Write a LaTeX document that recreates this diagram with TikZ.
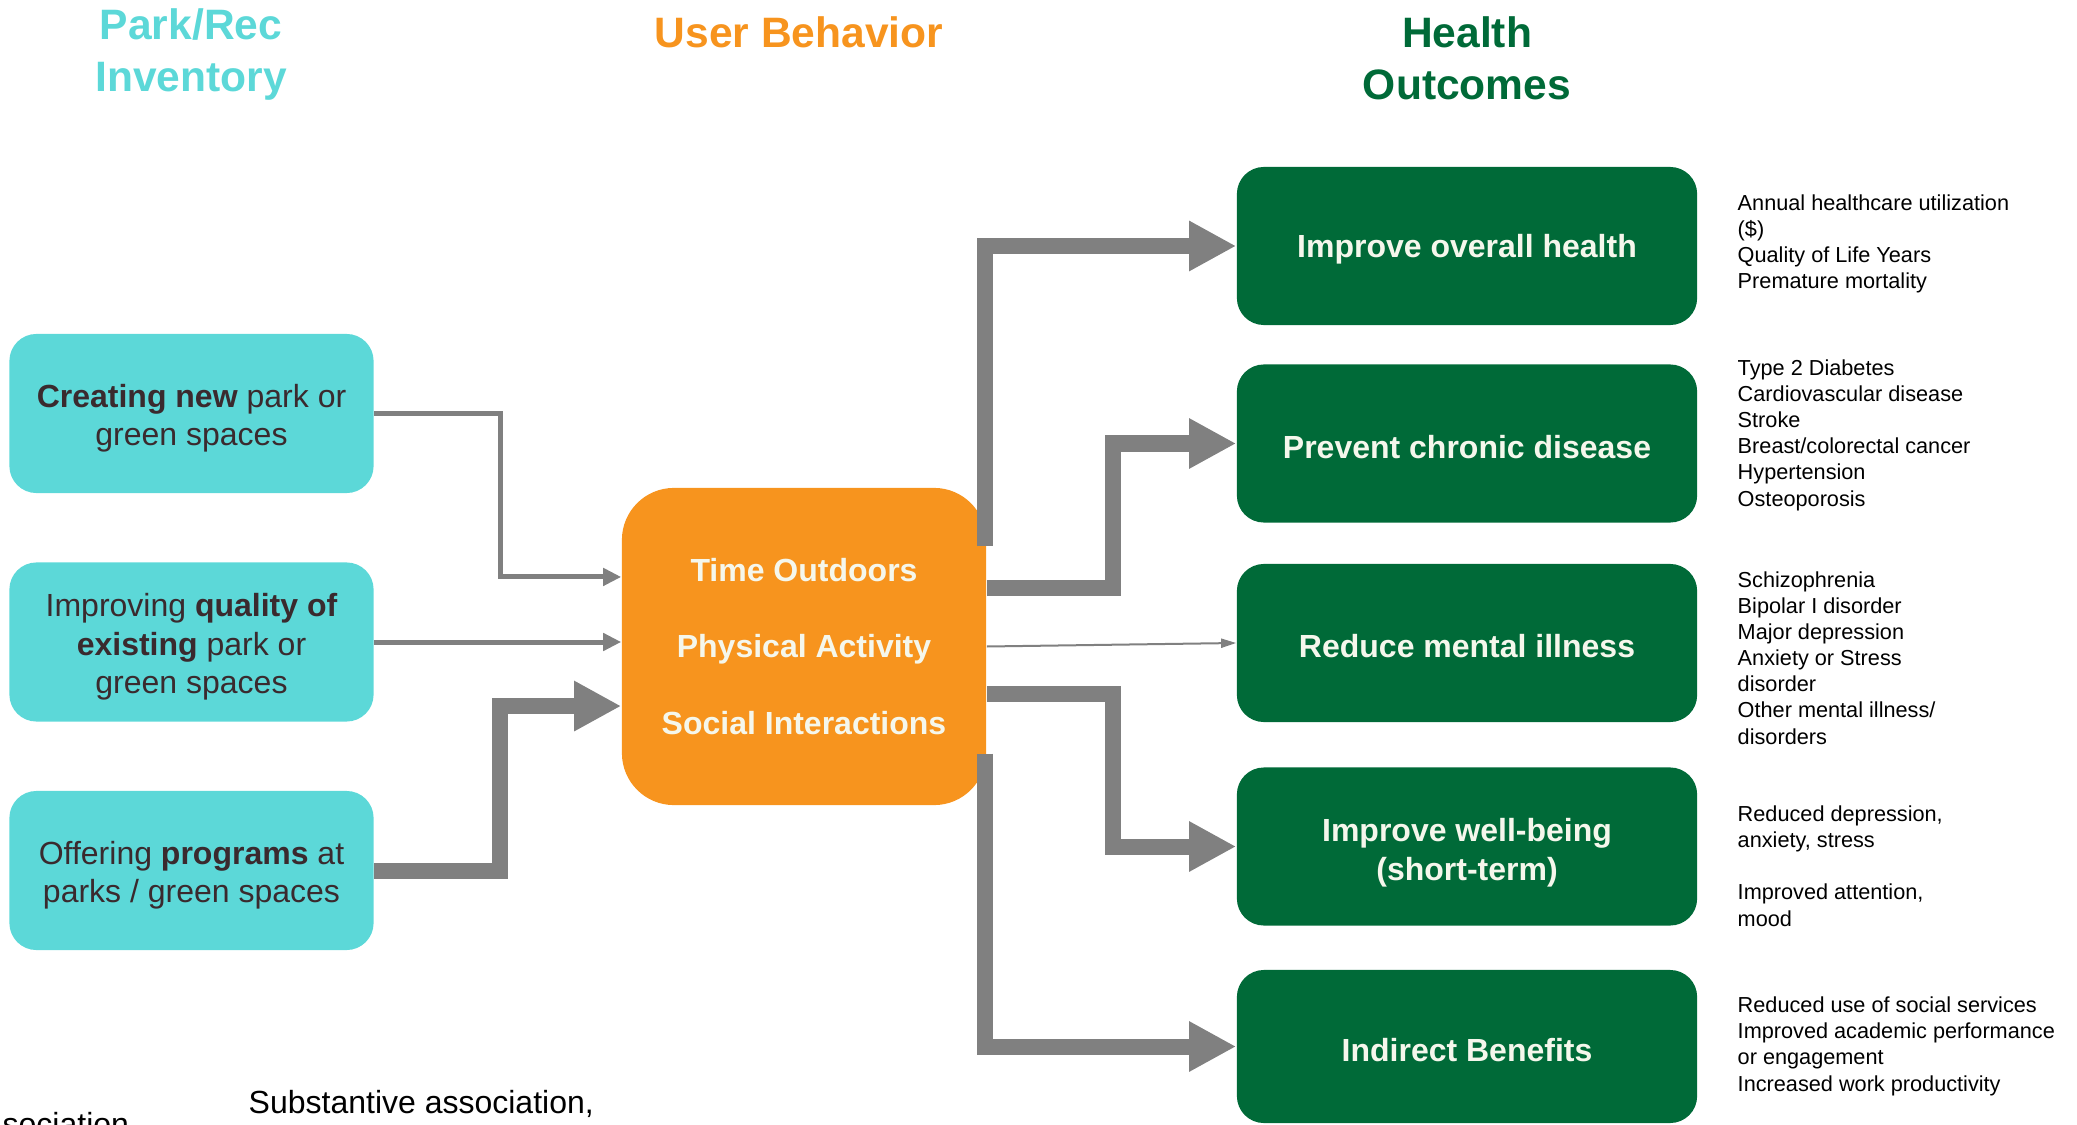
\documentclass[tikz,border=0pt]{standalone}
\usepackage{fontspec}
\setmainfont{Liberation Sans}
\usetikzlibrary{arrows.meta}
\definecolor{parkteal}{RGB}{92,216,216}
\definecolor{userorange}{RGB}{247,148,30}
\definecolor{healthgreen}{RGB}{0,106,56}
\definecolor{boxtext}{RGB}{58,42,46}
\definecolor{cream}{RGB}{245,247,236}
\definecolor{linkgray}{RGB}{128,128,128}
\newcommand{\toprow}{\rule{0pt}{9.4pt}}

\begin{document}
\begin{tikzpicture}[x=0.01cm, y=-0.01cm,
	park/.style={fill=parkteal, rounded corners=0.27cm, minimum width=3.64cm, minimum height=1.59cm, inner sep=0, align=center, text=boxtext, font=\fontsize{9.1pt}{10.9pt}\selectfont},
	user/.style={fill=userorange, rounded corners=0.52cm, minimum width=3.64cm, minimum height=3.17cm, align=center, text=cream, font=\bfseries\fontsize{9.1pt}{21.8pt}\selectfont},
	health/.style={fill=healthgreen, rounded corners=0.27cm, minimum width=4.6cm, minimum height=1.58cm, align=center, text=cream, font=\bfseries\fontsize{9.1pt}{11pt}\selectfont, execute at begin node={\rule{0pt}{8.6pt}}},
	heading/.style={anchor=north, inner sep=0, align=center, font=\bfseries\fontsize{12.1pt}{14.8pt}\selectfont},
	note/.style={anchor=base west, inner sep=0, align=left, font=\fontsize{6.17pt}{7.4pt}\selectfont},
	thin link/.style={draw=linkgray, line width=0.05cm, -{Triangle[length=0.18cm, width=0.17cm]}},
	hair link/.style={draw=linkgray, line width=0.02cm, -{Triangle[length=0.15cm, width=0.09cm]}},
	thick link/.style={draw=linkgray, line width=0.16cm, -{Triangle[length=0.47cm, width=0.47cm]}}]
	\useasboundingbox (0,0) rectangle (2077,1125);
	\clip (0,0) rectangle (2077,1125);

	% column headings
	\node[heading, text=parkteal] (parkhead) at (191,8) {Park/Rec\\Inventory};
	\node[heading, text=userorange] (userhead) at (799,16) {User Behavior};
	\node[heading, text=healthgreen] (healthhead) at (1467,16) {Health\\Outcomes};

	% park/rec inventory
	\node[park] (creating) at (191.5,413.5) {\toprow\textbf{Creating new} park or\\green spaces};
	\node[park] (improving) at (191.5,642) {\toprow Improving \textbf{quality of}\\\textbf{existing} park or\\green spaces};
	\node[park] (offering) at (191.5,870.5) {\toprow Offering \textbf{programs} at\\parks / green spaces};

	% user behavior
	\node[user] (behavior) at (804,646.5) {Time Outdoors\\Physical Activity\\Social Interactions};

	% health outcomes
	\node[health] (overall) at (1467,246) {Improve overall health};
	\node[health] (chronic) at (1467,443.5) {Prevent chronic disease};
	\node[health] (mental) at (1467,643) {Reduce mental illness};
	\node[health] (wellbeing) at (1467,846.5) {\rule{0pt}{10pt}Improve well-being\\(short-term)};
	\node[health, minimum height=1.53cm] (indirect) at (1467,1046.5) {Indirect Benefits};

	% outcome measures (placed at the last line)
	\node[note] (overallnote) at (1737,289) {Annual healthcare utilization\\(\$)\\Quality of Life Years\\Premature mortality};
	\node[note] (chronicnote) at (1737,506) {Type 2 Diabetes\\Cardiovascular disease\\Stroke\\Breast/colorectal cancer\\Hypertension\\Osteoporosis};
	\node[note] (mentalnote) at (1737,744) {Schizophrenia\\Bipolar I disorder\\Major depression\\Anxiety or Stress\\disorder\\Other mental illness/\\disorders};
	\node[note] (wellnote) at (1737,926) {Reduced depression,\\anxiety, stress\\[7.4pt]Improved attention,\\mood};
	\node[note] (indirectnote) at (1737,1091) {Reduced use of social services\\Improved academic performance\\or engagement\\Increased work productivity};

	% legend remains
	\node[anchor=base west, inner sep=0, font=\fontsize{9.1pt}{10.8pt}\selectfont] (assoc) at (2,1135) {sociation};
	\node[anchor=base west, inner sep=0, font=\fontsize{9.1pt}{10.8pt}\selectfont] (subst) at (248,1113) {Substantive association,};

	% inventory -> behavior
	\draw[thin link] (creating.east) -| ([xshift=-12.1mm, yshift=6.95mm]behavior.west) -- ([yshift=6.95mm]behavior.west);
	\draw[thin link] (improving.east) -- (behavior.west |- improving.east);
	\draw[thick link] (offering.east) -| ([xshift=-12.1mm, yshift=-5.95mm]behavior.west) -- ([yshift=-5.95mm]behavior.west);

	% behavior -> outcomes
	\draw[thick link] ([xshift=-0.2mm, yshift=10mm]behavior.east) |- (overall.west);
	\draw[thick link] ([yshift=5.85mm]behavior.east) -- ++(126,0) |- (chronic.west);
	\draw[hair link] (behavior.east) -- (mental.west);
	\draw[thick link] ([yshift=-4.75mm]behavior.east) -- ++(126,0) |- (wellbeing.west);
	\draw[thick link] ([xshift=-0.2mm, yshift=-10.7mm]behavior.east) |- (indirect.west);
\end{tikzpicture}
\end{document}
